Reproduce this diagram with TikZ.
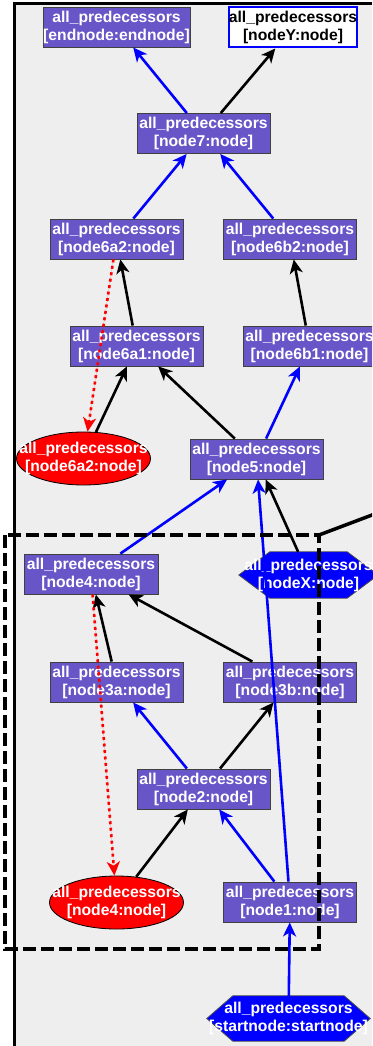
\documentclass[tikz,border=0pt]{standalone}
\usepackage{fontspec}
\setmainfont{Liberation Sans}
\usetikzlibrary{arrows.meta,shapes.geometric,calc}

\pgfdeclarelayer{back}
\pgfsetlayers{back,main}

\definecolor{predfill}{RGB}{104,86,200}
\definecolor{canvasgray}{RGB}{238,238,238}

% two-line label: goal name over its bracketed argument
\newcommand{\predlabel}[1]{all\_predecessors\\{}[#1]}

% flat-topped hexagon around a (rectangular) node: name, inset, style
\newcommand{\hexagonshape}[3]{%
  \draw[#3] (#1.west) -- ($(#1.north west)+(#2,0)$) -- ($(#1.north east)+(-#2,0)$)
    -- (#1.east) -- ($(#1.south east)+(-#2,0)$) -- ($(#1.south west)+(#2,0)$) -- cycle;}

\begin{document}
\begin{tikzpicture}[x=1pt,y=-1pt,
  labelfont/.style={font=\bfseries\fontsize{15.7}{18}\selectfont},
  pred/.style={rectangle, draw=black!75, line width=0.9pt, fill=predfill,
    text=white, labelfont, align=center,
    minimum width=133pt, minimum height=40pt, inner sep=0pt},
  goal/.style={pred, fill=white, draw=blue, line width=2pt, text=black},
  failed/.style={ellipse, draw=black, line width=0.8pt, fill=red,
    text=white, labelfont, align=center,
    minimum width=134pt, minimum height=53pt, inner xsep=-32pt, inner ysep=-10pt},
  hexnode/.style={rectangle, draw=none, text=white, labelfont, align=center,
    inner sep=0pt},
  hexfill/.style={fill=blue, draw=black!70, line width=0.8pt},
  link/.style={line width=2.6pt, -{Stealth[length=14pt,width=13pt,inset=4pt]}},
  bluelink/.style={link, draw=blue, fill=blue},
  blacklink/.style={link, draw=black, fill=black},
  faillink/.style={link, draw=red, fill=red, dash pattern=on 3pt off 3.5pt},
  cluster/.style={line width=3.5pt, dash pattern=on 13pt off 5pt},
  ]
\clip (0,0) rectangle (372,1046);

% nodes
\node[pred, minimum width=147pt] (nEnd) at (116.5,27) {\predlabel{endnode:endnode}};
\node[goal, minimum width=128pt] (nY) at (293,27.5) {\predlabel{nodeY:node}};
\node[pred] (n7) at (203.5,133.5) {\predlabel{node7:node}};
\node[pred] (n6a2) at (116.5,239) {\predlabel{node6a2:node}};
\node[pred] (n6b2) at (290,239) {\predlabel{node6b2:node}};
\node[pred] (n6a1) at (136.5,346) {\predlabel{node6a1:node}};
\node[pred] (n6b1) at (309.5,346) {\predlabel{node6b1:node}};
\node[failed] (e6a2) at (83.5,458.5) {\predlabel{node6a2:node}};
\node[pred] (n5) at (256.5,459) {\predlabel{node5:node}};
\node[pred, minimum width=134pt] (n4) at (91,574) {\predlabel{node4:node}};
\node[hexnode, minimum width=139pt, minimum height=46pt] (nX) at (308.5,575) {\predlabel{nodeX:node}};
\node[pred] (n3a) at (116.5,682) {\predlabel{node3a:node}};
\node[pred] (n3b) at (290,682) {\predlabel{node3b:node}};
\node[pred] (n2) at (203.5,789) {\predlabel{node2:node}};
\node[failed] (e4) at (116.5,902.5) {\predlabel{node4:node}};
\node[pred] (n1) at (290,902) {\predlabel{node1:node}};
\node[hexnode, minimum width=163pt, minimum height=45pt] (nStart) at (288.5,1018.5) {\predlabel{startnode:startnode}};

% page, canvas, frame and hexagon bodies underneath
\begin{pgfonlayer}{back}
  \fill[white] (0,0) rectangle (372,1046);
  \fill[canvasgray] (14,4) rectangle (372,1046);
  \draw[line width=3pt] (14.5,1046) -- (14.5,4) -- (372,4);
  \hexagonshape{nX}{31}{hexfill}
  \hexagonshape{nStart}{26}{hexfill}
\end{pgfonlayer}

% connectors
\draw[bluelink]  (n7) -- (nEnd);
\draw[blacklink] (n7) -- (nY);
\draw[bluelink]  (n6a2) -- (n7);
\draw[bluelink]  (n6b2) -- (n7);
\draw[blacklink] (n6a1) -- (n6a2);
\draw[blacklink] (n6b1) -- (n6b2);
\draw[faillink]  (n6a2) -- (e6a2);
\draw[blacklink] (e6a2) -- (n6a1);
\draw[blacklink] (n5) -- (n6a1);
\draw[bluelink]  (n5) -- (n6b1);
\draw[bluelink]  (n4) -- (n5);
\draw[blacklink] (nX) -- (n5);
\draw[bluelink]  (n1) -- (n5);
\draw[blacklink] (n3a) -- (n4);
\draw[blacklink] (n3b) -- (n4);
\draw[faillink]  (n4) -- (e4);
\draw[bluelink]  (n2) -- (n3a);
\draw[blacklink] (n2) -- (n3b);
\draw[blacklink] (e4) -- (n2);
\draw[bluelink]  (n1) -- (n2);
\draw[bluelink]  (nStart) -- (n1);

% dashed cluster and its outgoing line
\coordinate (clNW) at (5,535);
\coordinate (clSE) at (319,949);
\coordinate (clNE) at (319,535);
\coordinate (offR) at (380,512);
\draw[cluster] (clNW) rectangle (clSE);
\draw[line width=3.5pt] (clNE) -- (offR);
\end{tikzpicture}
\end{document}
